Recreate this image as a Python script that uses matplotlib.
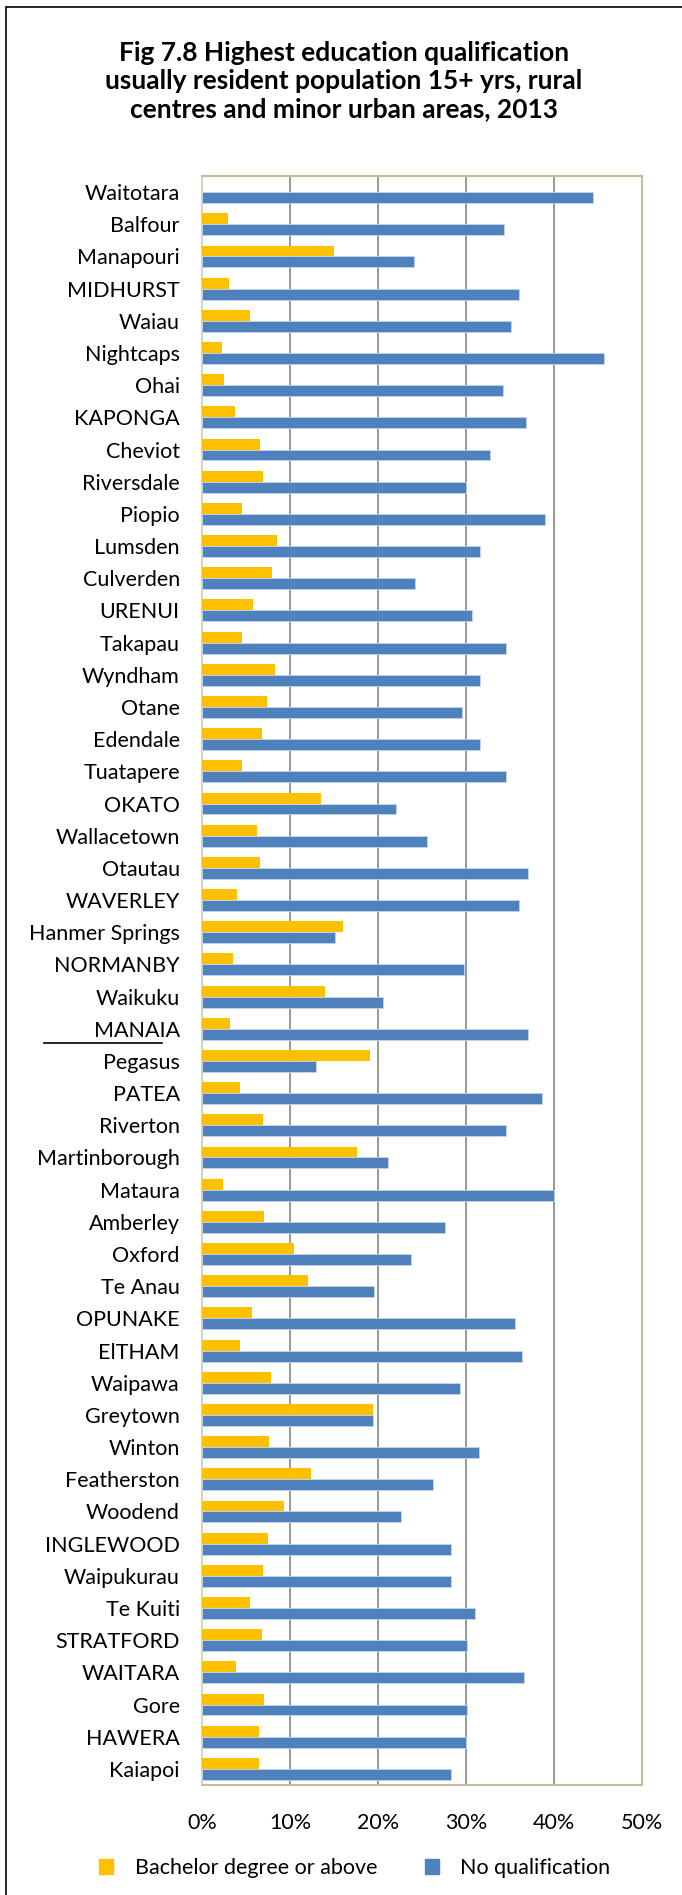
import numpy as np
import matplotlib
matplotlib.use("Agg")
import matplotlib.pyplot as plt
from matplotlib.lines import Line2D
from matplotlib.patches import Rectangle, Patch
from matplotlib.ticker import PercentFormatter

plt.rcParams['font.family'] = ['Lato', 'DejaVu Sans']

# towns, top to bottom as in the chart
towns = ['Waitotara', 'Balfour', 'Manapouri', 'MIDHURST', 'Waiau', 'Nightcaps', 'Ohai',
         'KAPONGA', 'Cheviot', 'Riversdale', 'Piopio', 'Lumsden', 'Culverden', 'URENUI',
         'Takapau', 'Wyndham', 'Otane', 'Edendale', 'Tuatapere', 'OKATO', 'Wallacetown',
         'Otautau', 'WAVERLEY', 'Hanmer Springs', 'NORMANBY', 'Waikuku', 'MANAIA',
         'Pegasus', 'PATEA', 'Riverton', 'Martinborough', 'Mataura', 'Amberley', 'Oxford',
         'Te Anau', 'OPUNAKE', 'ElTHAM', 'Waipawa', 'Greytown', 'Winton', 'Featherston',
         'Woodend', 'INGLEWOOD', 'Waipukurau', 'Te Kuiti', 'STRATFORD', 'WAITARA', 'Gore',
         'HAWERA', 'Kaiapoi']

# % with bachelor degree or above
bachelor = [0.0, 3.0, 15.0, 3.1, 5.5, 2.3, 2.5,
            3.8, 6.6, 6.9, 4.6, 8.5, 8.0, 5.8,
            4.5, 8.3, 7.4, 6.8, 4.5, 13.5, 6.3,
            6.6, 4.0, 16.0, 3.5, 14.0, 3.2,
            19.1, 4.3, 6.9, 17.6, 2.4, 7.0, 10.5,
            12.0, 5.7, 4.3, 7.8, 19.4, 7.6, 12.4,
            9.3, 7.5, 6.9, 5.5, 6.8, 3.9, 7.0,
            6.5, 6.5]

# % with no qualification
no_qual = [44.4, 34.3, 24.1, 36.0, 35.1, 45.7, 34.2,
           36.8, 32.7, 30.0, 39.0, 31.6, 24.2, 30.7,
           34.6, 31.6, 29.6, 31.6, 34.6, 22.1, 25.6,
           37.0, 36.0, 15.1, 29.8, 20.6, 37.0,
           13.0, 38.6, 34.6, 21.1, 40.0, 27.6, 23.8,
           19.6, 35.6, 36.4, 29.3, 19.4, 31.5, 26.3,
           22.6, 28.3, 28.3, 31.0, 30.1, 36.6, 30.1,
           30.0, 28.3]

W, H = 682, 1895
fig = plt.figure(figsize=(W / 100, H / 100), dpi=100)

# outer chart frame (right and bottom edges fall outside the picture)
fig.patches.append(Rectangle((6 / W, -0.01), 1.1, 1 - 7 / H + 0.01, transform=fig.transFigure,
                             fill=False, edgecolor='black', linewidth=1.2))

fig.text(344 / W, 1 - 81 / H,
         'Fig 7.8 Highest education qualification\n'
         'usually resident population 15+ yrs, rural\n'
         'centres and minor urban areas, 2013',
         ha='center', va='center', fontsize=19, fontweight='bold', linespacing=1.2)

ax = fig.add_axes([202 / W, 1 - 1785 / H, 440 / W, (1785 - 176) / H])

y = np.arange(len(towns))
h = 0.34
ax.barh(y - h / 2, bachelor, height=h, color='#FFC000', zorder=3)
ax.barh(y + h / 2, no_qual, height=h, color='#4F81BD', edgecolor='#C6D5EA',
        linewidth=0.6, zorder=3)

ax.set_xlim(0, 50)
ax.set_ylim(len(towns) - 0.5, -0.5)
ax.set_xticks(np.arange(0, 51, 10))
ax.xaxis.set_major_formatter(PercentFormatter(decimals=0))
ax.set_yticks(y)
ax.set_yticklabels(towns)
ax.tick_params(axis='y', length=0, pad=16, labelsize=15.5)
ax.tick_params(axis='x', length=0, pad=20, labelsize=15.5)
ax.grid(axis='x', color='#868686', linewidth=1.2, zorder=1)
for s in ax.spines.values():
    s.set_color('#C4BD97')
    s.set_linewidth(1.5)
ax.spines['left'].set_color('#D6D3C4')

# stray line under MANAIA in the original
fig.add_artist(Line2D([44 / W, 162 / W], [1 - 1043 / H, 1 - 1043 / H],
                      transform=fig.transFigure, color='black', linewidth=1.2))

handles = [Patch(color='#FFC000'), Patch(color='#4F81BD')]
fig.legend(handles, ['Bachelor degree or above', 'No qualification'],
           loc='center', bbox_to_anchor=(355 / W, 1 - 1868 / H), ncol=2, frameon=False,
           fontsize=15.5, handlelength=0.65, handleheight=0.65, handletextpad=1.0,
           columnspacing=2.2)

fig.savefig('out.png', dpi=100)
